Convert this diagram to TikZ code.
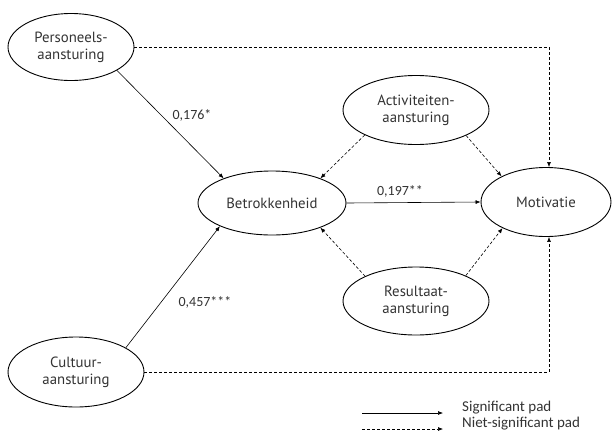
\documentclass[tikz,border=0pt]{standalone}
\usepackage{fontspec}
\setmainfont{PT Sans}
\newfontfamily\calib{Carlito}
\usetikzlibrary{shapes.geometric,arrows.meta}
\definecolor{txt}{HTML}{333333}
\tikzset{
  lat/.style={ellipse,draw=black,line width=0.9pt,inner sep=0pt,align=center,text=txt,font=\fontsize{14.8}{17}\selectfont},
  sig/.style={line width=0.6pt,-{Latex[length=5pt,width=4pt]}},
  nsig/.style={line width=0.6pt,dash pattern=on 3pt off 2pt,-{Latex[length=5pt,width=4pt]}},
  lbl/.style={font=\calib\fontsize{14}{16}\selectfont,text=txt,inner sep=0pt},
  leg/.style={font=\calib\fontsize{15}{17}\selectfont,text=txt,inner sep=0pt,anchor=base west},
}
\begin{document}
\begin{tikzpicture}[x=1pt,y=-1pt]
\useasboundingbox (0,0) rectangle (613,432);
\node[lat,minimum width=126pt,minimum height=67pt] (p) at (71,47) {Personeels-\\aansturing};
\node[lat,minimum width=136pt,minimum height=70pt] (c) at (76,372) {Cultuur-\\aansturing};
\node[lat,minimum width=146pt,minimum height=69pt] (a) at (416,110) {Activiteiten-\\aansturing};
\node[lat,minimum width=146pt,minimum height=68pt] (r) at (416,301) {Resultaat-\\aansturing};
\node[lat,minimum width=148pt,minimum height=64pt] (b) at (272,203) {Betrokkenheid};
\node[lat,minimum width=130pt,minimum height=69pt] (m) at (546,202) {Motivatie};

\draw[sig] (p.-27) -- (b.153);
\draw[sig] (c.26) -- (b.204);
\draw[sig] (b.east) -- (m.west);
\draw[nsig] (a.206) -- (b.27);
\draw[nsig] (a.-27) -- (m.150);
\draw[nsig] (r.154) -- (b.-27);
\draw[nsig] (r.27) -- (m.211);
\coordinate (tc) at (549,46);
\coordinate (bc) at (549,373);
\draw[nsig] (p.east) -- (p.east -| tc) -- (m.north -| tc);
\draw[nsig] (c.east) -- (c.east -| bc) -- (m.south -| bc);

\node[lbl] (l1) at (192,115) {0,176*};
\node[lbl] (l2) at (400,191) {0,197**};
\node[lbl] (l3) at (205,302) {0,457***};

\coordinate (s1) at (362,413);
\coordinate (s2) at (443,413);
\coordinate (n1) at (362,429);
\coordinate (n2) at (443,429);
\draw[sig] (s1) -- (s2);
\draw[nsig] (n1) -- (n2);
\node[leg] (t1) at (462,411) {Significant pad};
\node[leg] (t2) at (462,427.5) {Niet-significant pad};
\end{tikzpicture}
\end{document}
